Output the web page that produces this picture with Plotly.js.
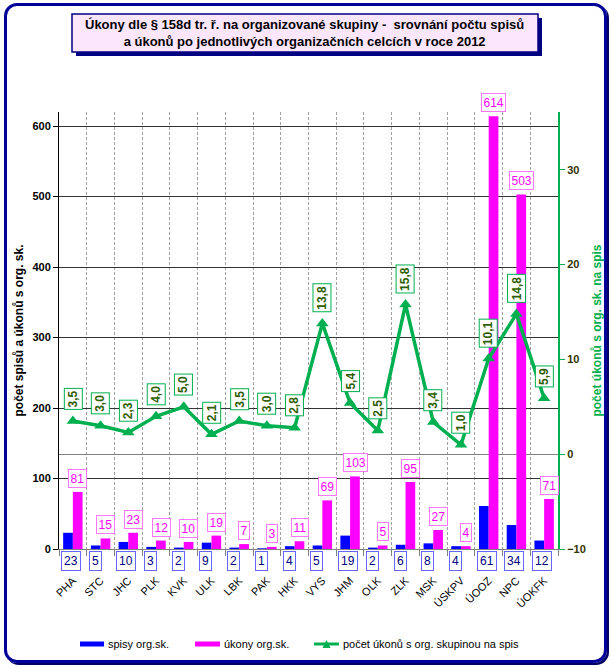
<!DOCTYPE html>
<html>
<head>
<meta charset="utf-8">
<script src="https://cdn.plot.ly/plotly-3.0.1.min.js"></script>
<style>
  html, body { margin: 0; padding: 0; background: #ffffff; }
  #wrap { position: relative; width: 612px; height: 668px; }
  #frame { position: absolute; left: 4px; top: 3px; width: 597px; height: 654px;
           border: 3px solid #000099; border-radius: 13px; box-shadow: 2px 2px 0 #000066; }
  #chart { position: absolute; left: 0; top: 0; width: 612px; height: 668px; }
</style>
</head>
<body>
<div id="wrap">
  <div id="frame"></div>
  <div id="chart"></div>
</div>
<script>
// ---- data ----
const categories = ['PHA','STC','JHC','PLK','KVK','ULK','LBK','PAK','HKK','VYS','JHM','OLK','ZLK','MSK','ÚSKPV','ÚOOZ','NPC','ÚOKFK'];
const spisy  = [23, 5, 10, 3, 2, 9, 2, 1, 4, 5, 19, 2, 6, 8, 4, 61, 34, 12];
const ukony  = [81, 15, 23, 12, 10, 19, 7, 3, 11, 69, 103, 5, 95, 27, 4, 614, 503, 71];
const pomer  = [3.5, 3.0, 2.3, 4.0, 5.0, 2.1, 3.5, 3.0, 2.8, 13.8, 5.4, 2.5, 15.8, 3.4, 1.0, 10.1, 14.8, 5.9];

const seriesNames = ['spisy org.sk.', 'úkony org.sk.', 'počet úkonů s org. skupinou na spis'];
const titleLines = ['Úkony dle § 158d tr. ř. na organizované skupiny -  srovnání počtu spisů',
                    'a úkonů po jednotlivých organizačních celcích v roce 2012'];
const yTitleLeft = 'počet spisů a úkonů s org. sk.';
const yTitleRight = 'počet úkonů s org. sk. na spis';

// ---- geometry helpers (pixel -> paper) ----
const M = {l: 59, r: 54, t: 112, b: 119};
const W = 612, H = 668;
const PW = W - M.l - M.r, PH = H - M.t - M.b;
const px = v => (v - M.l) / PW;
const py = v => (H - M.b - v) / PH;

const FONT = 'Arial, "Liberation Sans", sans-serif';
const BLUE = '#0000FF', PINK = '#FF00FF', GREEN = '#00B050';

const traces = [
  {type: 'bar', name: seriesNames[0], x: categories, y: spisy, marker: {color: BLUE}, yaxis: 'y', hoverinfo: 'x+y'},
  {type: 'bar', name: seriesNames[1], x: categories, y: ukony, marker: {color: PINK}, yaxis: 'y', hoverinfo: 'x+y'},
  {type: 'scatter', mode: 'lines+markers', name: seriesNames[2], x: categories, y: pomer, yaxis: 'y2',
   line: {color: GREEN, width: 3.5}, marker: {symbol: 'triangle-up', size: 11, color: GREEN}, cliponaxis: false}
];

const annotations = [];
// title
annotations.push({xref: 'paper', yref: 'paper', x: px(304), y: py(33), xanchor: 'center', yanchor: 'middle',
  text: '<b>' + titleLines[0] + '</b><br><b>' + titleLines[1] + '</b>', showarrow: false,
  font: {family: FONT, size: 13, color: '#000000'}, align: 'center'});

categories.forEach((c, i) => {
  // pink labels above úkony bars
  annotations.push({xref: 'x', yref: 'y', x: c, y: ukony[i], xanchor: 'center', yanchor: 'bottom',
    xshift: 5, yshift: 4, text: String(ukony[i]), showarrow: false,
    font: {family: FONT, size: 12, color: PINK}, bgcolor: '#ffffff', bordercolor: '#FF77FF',
    borderwidth: 1, borderpad: 1.5});
  // blue labels below axis
  annotations.push({xref: 'x', yref: 'paper', x: c, y: py(561), xanchor: 'left', yanchor: 'middle',
    xshift: -12, text: String(spisy[i]), showarrow: false,
    font: {family: FONT, size: 12, color: '#000080'}, bgcolor: '#ffffff', bordercolor: '#6666FF',
    borderwidth: 1, borderpad: 2});
  // green labels above the line points
  annotations.push({xref: 'x', yref: 'y2', x: c, y: pomer[i], xanchor: 'center', yanchor: 'bottom',
    yshift: 11, text: '<b>' + pomer[i].toFixed(1).replace('.', ',') + '</b>', showarrow: false, textangle: -90,
    font: {family: FONT, size: 12, color: '#2E5E00'}, bgcolor: '#ffffff', bordercolor: GREEN,
    borderwidth: 1, borderpad: 1.5});
});

// custom legend
const legendY = 644;
const legendItems = [
  {x0: 80, x1: 104, tx: 106, color: BLUE, kind: 'bar'},
  {x0: 195, x1: 220, tx: 222, color: PINK, kind: 'bar'},
  {x0: 314, x1: 339, tx: 341, color: GREEN, kind: 'line'}
];
const shapes = [];
// title box shadow + box
shapes.push({type: 'rect', xref: 'paper', yref: 'paper', x0: px(76), x1: px(542), y0: py(56), y1: py(18),
  fillcolor: '#000080', line: {width: 0}, layer: 'below'});
shapes.push({type: 'rect', xref: 'paper', yref: 'paper', x0: px(72), x1: px(538), y0: py(52), y1: py(14),
  fillcolor: '#FCE6FC', line: {color: '#000080', width: 1.5}, layer: 'below'});

legendItems.forEach((it, k) => {
  if (it.kind === 'bar') {
    shapes.push({type: 'rect', xref: 'paper', yref: 'paper', x0: px(it.x0), x1: px(it.x1),
      y0: py(legendY + 2.5), y1: py(legendY - 2.5), fillcolor: it.color, line: {width: 0}});
  } else {
    shapes.push({type: 'line', xref: 'paper', yref: 'paper', x0: px(it.x0), x1: px(it.x1),
      y0: py(legendY), y1: py(legendY), line: {color: it.color, width: 3}});
    const cx = (it.x0 + it.x1) / 2;
    shapes.push({type: 'path', xref: 'paper', yref: 'paper',
      path: 'M ' + px(cx - 4) + ' ' + py(legendY + 4) + ' L ' + px(cx + 4) + ' ' + py(legendY + 4) +
            ' L ' + px(cx) + ' ' + py(legendY - 4) + ' Z', fillcolor: it.color, line: {width: 0}});
  }
  annotations.push({xref: 'paper', yref: 'paper', x: px(it.tx), y: py(legendY), xanchor: 'left', yanchor: 'middle',
    text: seriesNames[k], showarrow: false, font: {family: FONT, size: 11, color: '#000000'}});
});

const layout = {
  width: W, height: H,
  margin: M,
  paper_bgcolor: 'rgba(0,0,0,0)',
  plot_bgcolor: '#ffffff',
  showlegend: false,
  barmode: 'group',
  bargap: 0.3,
  bargroupgap: 0,
  font: {family: FONT, size: 11, color: '#000000'},
  xaxis: {
    type: 'category', range: [-0.5, categories.length - 0.5], tickson: 'boundaries',
    showgrid: true, griddash: '3px,2px', gridcolor: '#A0A0A0', gridwidth: 1,
    ticks: 'outside', ticklen: 6, tickcolor: '#808080', showline: true, linecolor: '#808080', linewidth: 1,
    tickangle: -45, tickfont: {family: FONT, size: 11, color: '#000000'}, ticklabelstandoff: 20,
    automargin: false, fixedrange: true
  },
  yaxis: {
    range: [0, 620], tick0: 0, dtick: 100, showgrid: true, gridcolor: '#333333', gridwidth: 1,
    zeroline: false, showline: true, linecolor: '#000000', linewidth: 1, ticks: 'outside', ticklen: 5,
    tickcolor: '#000000', tickfont: {family: FONT, size: 11, color: '#000000', weight: 'bold'},
    title: {text: '<b>' + yTitleLeft + '</b>', font: {family: FONT, size: 12, color: '#000000'}, standoff: 6},
    automargin: false, fixedrange: true
  },
  yaxis2: {
    overlaying: 'y', side: 'right', range: [-10, 36.1], tick0: 0, dtick: 10, showgrid: false,
    zeroline: true, zerolinecolor: '#808080', zerolinewidth: 1,
    showline: true, linecolor: GREEN, linewidth: 2, ticks: 'outside', ticklen: 5, tickcolor: GREEN,
    tickfont: {family: FONT, size: 11, color: '#333300', weight: 'bold'},
    title: {text: '<b>' + yTitleRight + '</b>', font: {family: FONT, size: 12, color: GREEN}, standoff: 8},
    automargin: false, fixedrange: true
  },
  annotations: annotations,
  shapes: shapes
};

Plotly.newPlot('chart', traces, layout, {displayModeBar: false, staticPlot: true});
</script>
</body>
</html>
